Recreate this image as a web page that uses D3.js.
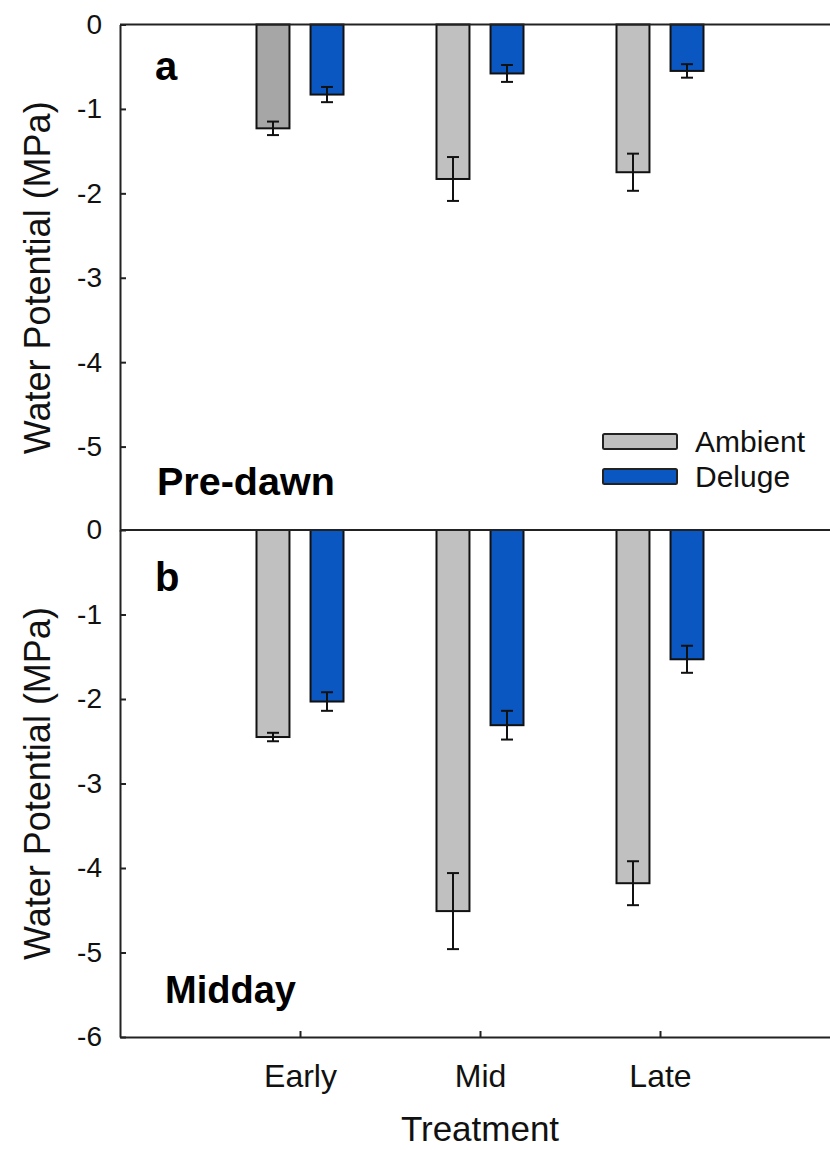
<!DOCTYPE html>
<html>
<head>
<meta charset="utf-8">
<script src="https://cdn.jsdelivr.net/npm/d3@7"></script>
<style>
  body { margin: 0; background: #fff; }
  svg { display: block; font-family: 'Liberation Sans', Arial, sans-serif; }
  .axis text { font-size: 28px; fill: #111; }
  .axis path, .axis line { stroke: #222; stroke-width: 2; }
</style>
</head>
<body>
<div id="chart"></div>
<script>
var categories = ['Early', 'Mid', 'Late'];
var series = ['Ambient', 'Deluge'];

// pre-dawn (panel a)
var predawnAmbient = [-1.23, -1.83, -1.75];
var predawnAmbientErr = [0.08, 0.26, 0.22];
var predawnDeluge = [-0.83, -0.58, -0.55];
var predawnDelugeErr = [0.09, 0.10, 0.08];

// midday (panel b)
var middayAmbient = [-2.45, -4.51, -4.18];
var middayAmbientErr = [0.05, 0.45, 0.26];
var middayDeluge = [-2.03, -2.31, -1.53];
var middayDelugeErr = [0.11, 0.17, 0.16];

var yTicksA = [0, -1, -2, -3, -4, -5];
var yTicksB = [0, -1, -2, -3, -4, -5, -6];

var width = 830, height = 1150;
var left = 120, right = 840;

var colors = d3.scaleOrdinal().domain(series).range(['#c0c0c0', '#0a57c2']);

var svg = d3.select('#chart').append('svg')
    .attr('width', width)
    .attr('height', height);

var x = d3.scalePoint()
    .domain(categories)
    .range([left, right])
    .padding(1);

var x1 = d3.scaleBand()
    .domain(series)
    .range([-43.5, 43.5])
    .paddingInner(0.39);

function rows(amb, ambErr, del, delErr) {
  var out = [];
  categories.forEach(function(c, i) {
    out.push({ cat: c, s: 'Ambient', v: amb[i], e: ambErr[i], i: i });
    out.push({ cat: c, s: 'Deluge', v: del[i], e: delErr[i], i: i });
  });
  return out;
}

var panels = [
  { key: 'a', label: 'Pre-dawn', top: 24.5, bottom: 531, ticks: yTicksA,
    data: rows(predawnAmbient, predawnAmbientErr, predawnDeluge, predawnDelugeErr),
    letterY: 80, nameX: 157, nameY: 495 },
  { key: 'b', label: 'Midday', top: 530, bottom: 1037, ticks: yTicksB,
    data: rows(middayAmbient, middayAmbientErr, middayDeluge, middayDelugeErr),
    letterY: 591, nameX: 165, nameY: 1003 }
];

panels.forEach(function(p) {
  var y = d3.scaleLinear().domain([0, -6]).range([p.top, p.bottom]);
  var g = svg.append('g').attr('class', 'panel panel-' + p.key);

  // bars
  g.selectAll('rect.bar')
    .data(p.data)
    .enter()
    .append('rect')
    .attr('class', 'bar')
    .attr('x', function(d) { return x(d.cat) + x1(d.s); })
    .attr('y', y(0))
    .attr('width', x1.bandwidth())
    .attr('height', function(d) { return y(d.v) - y(0); })
    .style('fill', function(d) {
      // the first ambient bar of panel a is printed a shade darker
      return (p.key === 'a' && d.s === 'Ambient' && d.i === 0) ? '#a6a6a6' : colors(d.s);
    })
    .style('stroke', '#111')
    .style('stroke-width', 2);

  // error bars
  var err = g.selectAll('g.err')
    .data(p.data)
    .enter()
    .append('g')
    .attr('class', 'err')
    .attr('transform', function(d) { return 'translate(' + (x(d.cat) + x1(d.s) + x1.bandwidth() / 2) + ',0)'; });

  err.append('line')
    .attr('y1', function(d) { return y(d.v + d.e); })
    .attr('y2', function(d) { return y(d.v - d.e); });
  err.append('line')
    .attr('x1', -6).attr('x2', 6)
    .attr('y1', function(d) { return y(d.v + d.e); })
    .attr('y2', function(d) { return y(d.v + d.e); });
  err.append('line')
    .attr('x1', -6).attr('x2', 6)
    .attr('y1', function(d) { return y(d.v - d.e); })
    .attr('y2', function(d) { return y(d.v - d.e); });
  err.selectAll('line')
    .style('stroke', '#111')
    .style('stroke-width', 2);

  // y axis, ticks pointing inward, plain hyphen for minus
  g.append('g')
    .attr('class', 'axis y')
    .attr('transform', 'translate(' + left + ',0)')
    .call(d3.axisLeft(y)
      .tickValues(p.ticks)
      .tickFormat(function(d) { return String(d); })
      .tickSizeInner(-6).tickSizeOuter(0).tickPadding(18));

  // top frame line at zero
  g.append('line')
    .attr('x1', left).attr('x2', right)
    .attr('y1', y(0)).attr('y2', y(0))
    .style('stroke', '#222')
    .style('stroke-width', 2);

  g.append('text')
    .attr('x', 155)
    .attr('y', p.letterY)
    .style('font-size', '40px')
    .style('font-weight', 'bold')
    .text(p.key);

  g.append('text')
    .attr('x', p.nameX)
    .attr('y', p.nameY)
    .style('font-size', p.key === 'a' ? '39.5px' : '38px')
    .style('font-weight', 'bold')
    .text(p.label);

  g.append('text')
    .attr('transform', 'translate(50,' + (p.top + p.bottom) / 2 + ') rotate(-90)')
    .attr('text-anchor', 'middle')
    .style('font-size', '36px')
    .style('fill', '#111')
    .text('Water Potential (MPa)');
});

// bottom x axis
svg.append('g')
  .attr('class', 'axis x')
  .attr('transform', 'translate(0,1037)')
  .call(d3.axisBottom(x).tickSizeInner(-6).tickSizeOuter(0).tickPadding(27))
  .selectAll('text')
  .style('font-size', '32px');

svg.append('text')
  .attr('x', (left + right) / 2)
  .attr('y', 1141)
  .attr('text-anchor', 'middle')
  .style('font-size', '35px')
  .style('fill', '#111')
  .text('Treatment');

// legend
var legend = svg.append('g')
  .attr('class', 'legend')
  .attr('transform', 'translate(603,434)');

var item = legend.selectAll('g')
  .data(series)
  .enter()
  .append('g')
  .attr('transform', function(d, i) { return 'translate(0,' + i * 35 + ')'; });

item.append('rect')
  .attr('width', 74)
  .attr('height', 15)
  .attr('rx', 1.5)
  .style('fill', function(d) { return colors(d); })
  .style('stroke', '#222')
  .style('stroke-width', 2);

item.append('text')
  .attr('x', 92)
  .attr('y', 18)
  .style('font-size', '30px')
  .style('fill', '#111')
  .text(function(d) { return d; });
</script>
</body>
</html>
